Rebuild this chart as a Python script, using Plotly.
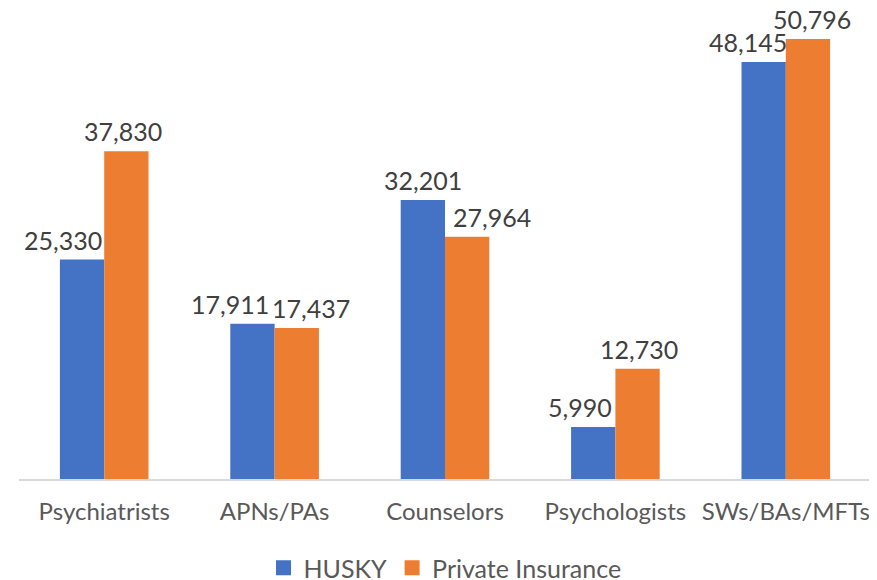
import plotly.graph_objects as go

categories = ["Psychiatrists", "APNs/PAs", "Counselors", "Psychologists", "SWs/BAs/MFTs"]
husky = [25330, 17911, 32201, 5990, 48145]
private = [37830, 17437, 27964, 12730, 50796]
series_names = ["HUSKY", "Private Insurance"]
series_colors = ["#4472C4", "#ED7D31"]

# horizontal nudges (px) of value labels, to avoid collisions as in the original
husky_label_nudge = [-19, -22, 0, -13, -16]
private_label_nudge = [-3, 14, 25, 1, 4]

FONT = "Lato"
W, H = 869, 584          # page body has an 8px margin; bottom part falls off-screen
PLOT_TOP = 2
BASE = 471                # baseline in figure pixels
LEGEND_Y = 560            # legend centre in figure pixels
BARGAP = 0.48
half = (1 - BARGAP) / 4   # offset of each bar's centre from its category centre

fig = go.Figure()
for name, vals, col in zip(series_names, [husky, private], series_colors):
    fig.add_trace(go.Bar(name=name, x=categories, y=vals, marker_color=col,
                         marker_line_width=0, hoverinfo="x+y", showlegend=False,
                         legendgroup=name))
# legend entries with larger square swatches
for name, col in zip(series_names, series_colors):
    fig.add_trace(go.Scatter(name=name, x=[None], y=[None], mode="markers",
                             marker=dict(symbol="square", size=15, color=col),
                             legendgroup=name, showlegend=True, hoverinfo="skip"))

annotations = []
for vals, off, nudges in [(husky, -half, husky_label_nudge), (private, half, private_label_nudge)]:
    for i, v in enumerate(vals):
        annotations.append(dict(
            x=i + off, y=v, xref="x", yref="y", text=f"{v:,}", showarrow=False,
            xanchor="center", yanchor="bottom", xshift=nudges[i], yshift=3,
            font=dict(size=25, color="#404040", family=FONT)))

fig.update_layout(
    width=W, height=H,
    margin=dict(l=11, r=6, t=PLOT_TOP, b=0),
    barmode="group", bargap=BARGAP, bargroupgap=0,
    plot_bgcolor="white", paper_bgcolor="white",
    font=dict(family=FONT, color="#595959", size=22),
    showlegend=True,
    annotations=annotations,
    legend=dict(orientation="h", x=0.5, xanchor="center",
                y=(H - LEGEND_Y) / (H - PLOT_TOP), yanchor="middle",
                font=dict(size=25, color="#595959", family=FONT), itemsizing="trace",
                bgcolor="rgba(0,0,0,0)"),
)
fig.update_xaxes(showline=True, linecolor="#D9D9D9", linewidth=1.5, ticks="", showgrid=False,
                 automargin=False, ticklabelstandoff=10,
                 tickfont=dict(size=24, color="#595959", family=FONT))
fig.update_yaxes(range=[0, 54145], visible=False, showgrid=False, automargin=False,
                 domain=[(H - BASE) / (H - PLOT_TOP), 1])

fig.write_html("out.html")
